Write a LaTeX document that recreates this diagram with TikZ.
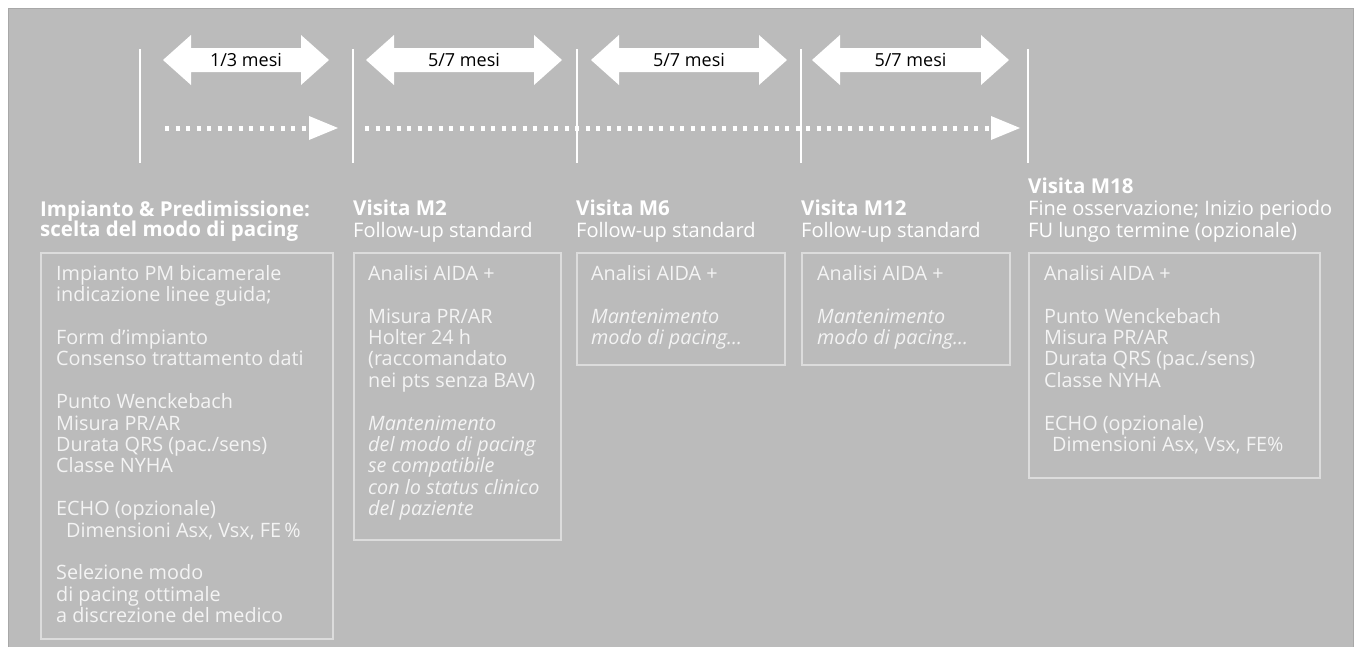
\documentclass[tikz,border=0pt]{standalone}
\usepackage{fontspec}
\setmainfont{Open Sans}
\definecolor{bggray}{HTML}{BBBBBB}
\definecolor{bgline}{HTML}{A8A8A8}
\definecolor{boxline}{HTML}{DCDCDC}
\definecolor{bodytext}{HTML}{F4F4F4}
\newcommand{\topstrut}{\rule{0pt}{16pt}}
\begin{document}
\begin{tikzpicture}[x=1pt,y=-1pt,
  bodytxt/.style={text=bodytext, font=\fontsize{19.8}{21.4}\selectfont, align=left, anchor=north west, inner sep=0pt},
  hdrtxt/.style={text=white, font=\fontsize{20}{22}\selectfont, align=left, anchor=base west, inner sep=0pt},
  hdrtxtm/.style={text=white, font=\fontsize{20}{22}\selectfont, align=left, anchor=north west, inner sep=0pt},
  hdrbold/.style={text=white, font=\bfseries\fontsize{20.5}{20.5}\selectfont, align=left, anchor=base west, inner sep=0pt},
  hdrboldm/.style={text=white, font=\bfseries\fontsize{20.5}{20.5}\selectfont, align=left, anchor=north west, inner sep=0pt},
  framebox/.style={draw=boxline, line width=1.5pt, anchor=north west, inner sep=0pt},
  vline/.style={draw=white, line width=2pt},
  arrtxt/.style={text=black, font=\fontsize{18}{20}\selectfont, anchor=base, inner sep=0pt},
  dotline/.style={draw=white, line width=5pt, dash pattern=on 4pt off 6.5pt}
]
\useasboundingbox (0,0) rectangle (1356,646);
% background panel
\fill[bggray] (8,8) rectangle (1353,650);
\draw[bgline, line width=1pt] (8,650) -- (8,8) -- (1353,8) -- (1353,650);

% vertical time marks
\foreach \x/\n in {140/v0,353/v1,577/v2,801/v3,1028/v4}{
  \coordinate (\n t) at (\x,49);
  \coordinate (\n b) at (\x,163);
  \draw[vline] (\n t) -- (\n b);
}

% double arrows with labels
\foreach \xa/\xb/\lab/\n in {163/329/1\slash3 mesi/a1, 366/562/5\slash7 mesi/a2, 591/787/5\slash7 mesi/a3, 812/1009/5\slash7 mesi/a4}{
  \fill[white] (\xa,60) -- (\xa+28,35) -- (\xa+28,48) -- (\xb-28,48) -- (\xb-28,35) -- (\xb,60)
     -- (\xb-28,85) -- (\xb-28,72) -- (\xa+28,72) -- (\xa+28,85) -- cycle;
  \node[arrtxt] (\n) at ({(\xa+\xb)/2},66.5) {\lab};
}

% dotted arrows
\coordinate (d1s) at (165,128); \coordinate (d1e) at (307,128);
\draw[dotline] (d1s) -- (d1e);
\fill[white] (309,116) -- (338,128) -- (309,140) -- cycle;
\coordinate (d2s) at (365,128); \coordinate (d2e) at (989,128);
\draw[dotline] (d2s) -- (d2e);
\fill[white] (991,116) -- (1020,128) -- (991,140) -- cycle;

% headers
\node[hdrboldm] (h0) at (40,200) {\topstrut Impianto \& Predimissione:\\scelta del modo di pacing};
\node[hdrbold] (h1) at (353,215) {Visita M2};
\node[hdrtxt] (h1s) at (353,237) {Follow-up standard};
\node[hdrbold] (h2) at (576,215) {Visita M6};
\node[hdrtxt] (h2s) at (576,237) {Follow-up standard};
\node[hdrbold] (h3) at (801,215) {Visita M12};
\node[hdrtxt] (h3s) at (801,237) {Follow-up standard};
\node[hdrbold] (h4) at (1028,193) {Visita M18};
\node[hdrtxtm] (h4s) at (1028,199) {\topstrut Fine osservazione; Inizio periodo\\FU lungo termine (opzionale)};

% boxes
\node[framebox, minimum width=292pt, minimum height=386pt] (b0) at (40,252) {};
\node[framebox, minimum width=207pt, minimum height=287pt] (b1) at (353,252) {};
\node[framebox, minimum width=208pt, minimum height=112pt] (b2) at (576,252) {};
\node[framebox, minimum width=208pt, minimum height=112pt] (b3) at (801,252) {};
\node[framebox, minimum width=291pt, minimum height=225pt] (b4) at (1028,252) {};

% box contents
\node[bodytxt] (t0) at (56,264) {\topstrut Impianto PM bicamerale\\indicazione linee guida;\\[21.4pt]
Form d’impianto\\Consenso trattamento dati\\[21.4pt]
Punto Wenckebach\\Misura PR/AR\\Durata QRS (pac./sens)\\Classe NYHA\\[21.4pt]
ECHO (opzionale)\\\hspace*{10pt}Dimensioni Asx, Vsx, FE\,\%\\[21.4pt]
Selezione modo\\di pacing ottimale\\a discrezione del medico};

\node[bodytxt] (t1) at (368,264) {\topstrut Analisi AIDA +\\[21.4pt]
Misura PR/AR\\Holter 24 h\\(raccomandato\\nei pts senza BAV)\\[21.4pt]
\itshape Mantenimento\\\itshape del modo di pacing\\\itshape se compatibile\\\itshape con lo status clinico\\\itshape del paziente};

\node[bodytxt] (t2) at (591,264) {\topstrut Analisi AIDA +\\[21.4pt]
\itshape Mantenimento\\\itshape modo di pacing...};

\node[bodytxt] (t3) at (817,264) {\topstrut Analisi AIDA +\\[21.4pt]
\itshape Mantenimento\\\itshape modo di pacing...};

\node[bodytxt] (t4) at (1044,264) {\topstrut Analisi AIDA +\\[21.4pt]
Punto Wenckebach\\Misura PR/AR\\Durata QRS (pac./sens)\\Classe NYHA\\[21.4pt]
ECHO (opzionale)\\\hspace*{8pt}Dimensioni Asx, Vsx, FE\%};
\end{tikzpicture}
\end{document}
